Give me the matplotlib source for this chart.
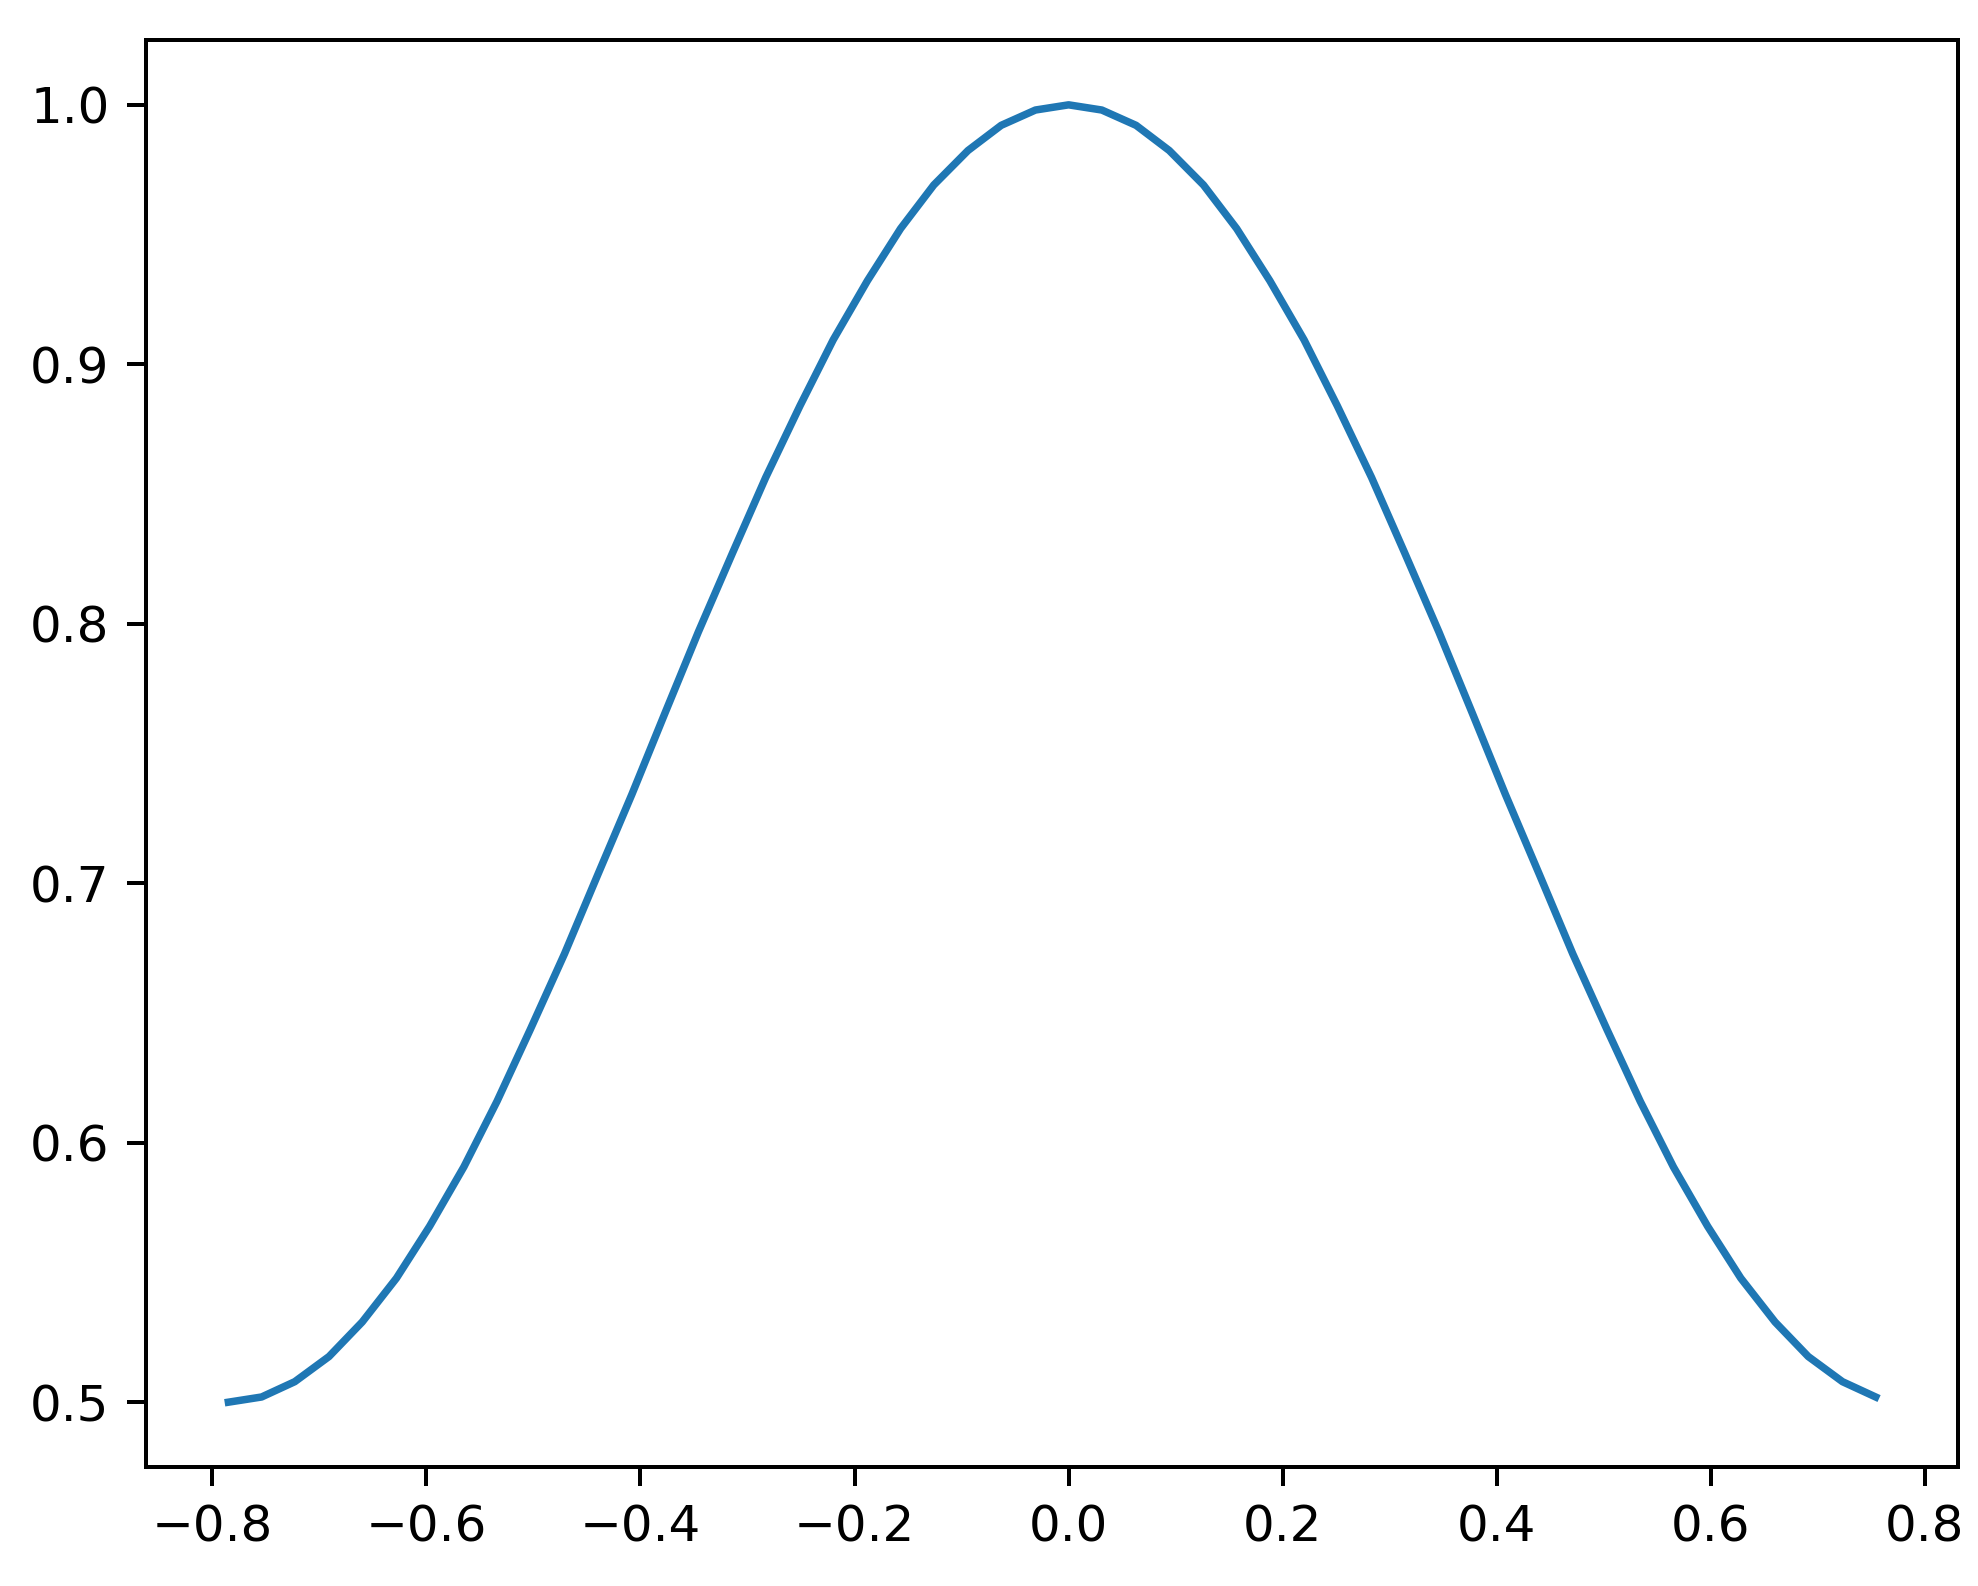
import matplotlib
matplotlib.use("Agg")
import matplotlib.pyplot as plt

x_values = [-0.785, -0.754, -0.723, -0.691, -0.660, -0.628, -0.597, -0.565, -0.534, -0.503,
            -0.471, -0.440, -0.408, -0.377, -0.346, -0.314, -0.283, -0.251, -0.220, -0.188,
            -0.157, -0.126, -0.094, -0.063, -0.031, 0.000, 0.031, 0.063, 0.094, 0.126,
            0.157, 0.188, 0.220, 0.251, 0.283, 0.314, 0.346, 0.377, 0.408, 0.440,
            0.471, 0.503, 0.534, 0.565, 0.597, 0.628, 0.660, 0.691, 0.723, 0.754]

y_values = [0.5000, 0.5020, 0.5079, 0.5176, 0.5309, 0.5478, 0.5678, 0.5907, 0.6160, 0.6436,
            0.6728, 0.7032, 0.7343, 0.7657, 0.7968, 0.8273, 0.8564, 0.8840, 0.9094, 0.9322,
            0.9523, 0.9691, 0.9824, 0.9921, 0.9980, 1.0000, 0.9980, 0.9921, 0.9824, 0.9691,
            0.9523, 0.9322, 0.9094, 0.8840, 0.8564, 0.8273, 0.7968, 0.7657, 0.7343, 0.7032,
            0.6728, 0.6436, 0.6160, 0.5907, 0.5678, 0.5478, 0.5309, 0.5176, 0.5079, 0.5020]

fig = plt.figure(figsize=(1979 / 360, 1586 / 360), dpi=360)
ax = fig.add_axes([0.0738, 0.075, 0.9156, 0.8998])
ax.plot(x_values, y_values, color="#1f77b4", linewidth=1.5)
ax.tick_params(length=3.8)
fig.savefig("out.png", dpi=360)
